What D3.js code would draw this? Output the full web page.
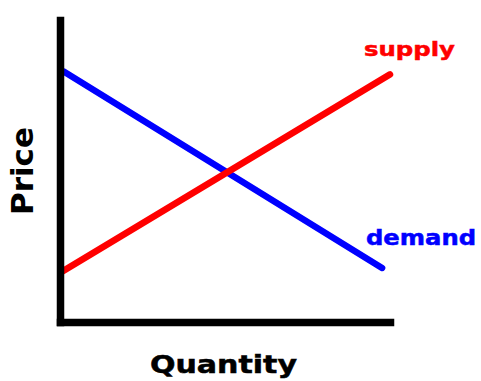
<!DOCTYPE html>
<html>
<head>
<meta charset="utf-8">
<script src="https://cdn.jsdelivr.net/npm/d3@7"></script>
<style>
  body { margin: 0; background: #fff; }
  svg { display: block; }
  .lbl { font-family: "DejaVu Sans", Verdana, sans-serif; font-weight: bold; stroke-width: 0.5px; }
</style>
</head>
<body>
<div id="chart"></div>
<script>
// Supply & demand sketch, values in arbitrary units (0..10)
var demandQ = [0.1, 9.76];
var demandP = [8.3, 1.79];
var supplyQ = [0.05, 10];
var supplyP = [1.66, 8.2];
var curveNames = ["supply", "demand"];
var axisTitles = ["Quantity", "Price"];

var W = 481, H = 381;

var x = d3.scaleLinear().domain([0, 10]).range([60, 390]);
var y = d3.scaleLinear().domain([0, 10]).range([322, 20]);

var svg = d3.select("#chart").append("svg")
  .attr("width", W)
  .attr("height", H);

var line = d3.line()
  .x(function(d) { return x(d[0]); })
  .y(function(d) { return y(d[1]); });

// curves first, axes drawn on top
svg.append("path")
  .datum(d3.zip(demandQ, demandP))
  .attr("d", line)
  .attr("fill", "none")
  .attr("stroke", "#0000ff")
  .attr("stroke-width", 6.5)
  .attr("stroke-linecap", "round");

svg.append("path")
  .datum(d3.zip(supplyQ, supplyP))
  .attr("d", line)
  .attr("fill", "none")
  .attr("stroke", "#ff0000")
  .attr("stroke-width", 6.5)
  .attr("stroke-linecap", "round");

// bare axes, no ticks
svg.append("g")
  .attr("transform", "translate(0," + y(0) + ")")
  .call(d3.axisBottom(x).tickValues([]).tickSizeOuter(0));
svg.append("g")
  .attr("transform", "translate(" + x(0) + ",0)")
  .call(d3.axisLeft(y).tickValues([]).tickSizeOuter(0));

svg.selectAll(".domain")
  .attr("stroke", "#000")
  .attr("stroke-width", 7.5)
  .attr("stroke-linecap", "square");

// curve labels (glyphs stretched wide like the original)
svg.append("text")
  .attr("class", "lbl")
  .attr("x", 364)
  .attr("y", 56)
  .attr("font-size", 20)
  .attr("fill", "#ff0000")
  .attr("stroke", "#ff0000")
  .attr("textLength", 91)
  .attr("lengthAdjust", "spacingAndGlyphs")
  .text(curveNames[0]);

svg.append("text")
  .attr("class", "lbl")
  .attr("x", 366)
  .attr("y", 245)
  .attr("font-size", 21)
  .attr("fill", "#0000ff")
  .attr("stroke", "#0000ff")
  .attr("textLength", 110)
  .attr("lengthAdjust", "spacingAndGlyphs")
  .text(curveNames[1]);

// axis titles
svg.append("text")
  .attr("class", "lbl")
  .attr("x", 150)
  .attr("y", 373)
  .attr("font-size", 24)
  .attr("fill", "#000")
  .attr("stroke", "#000")
  .attr("textLength", 147)
  .attr("lengthAdjust", "spacingAndGlyphs")
  .text(axisTitles[0]);

svg.append("text")
  .attr("class", "lbl")
  .attr("transform", "translate(33,215) rotate(-90)")
  .attr("font-size", 31)
  .attr("fill", "#000")
  .attr("textLength", 88)
  .attr("lengthAdjust", "spacingAndGlyphs")
  .text(axisTitles[1]);
</script>
</body>
</html>
